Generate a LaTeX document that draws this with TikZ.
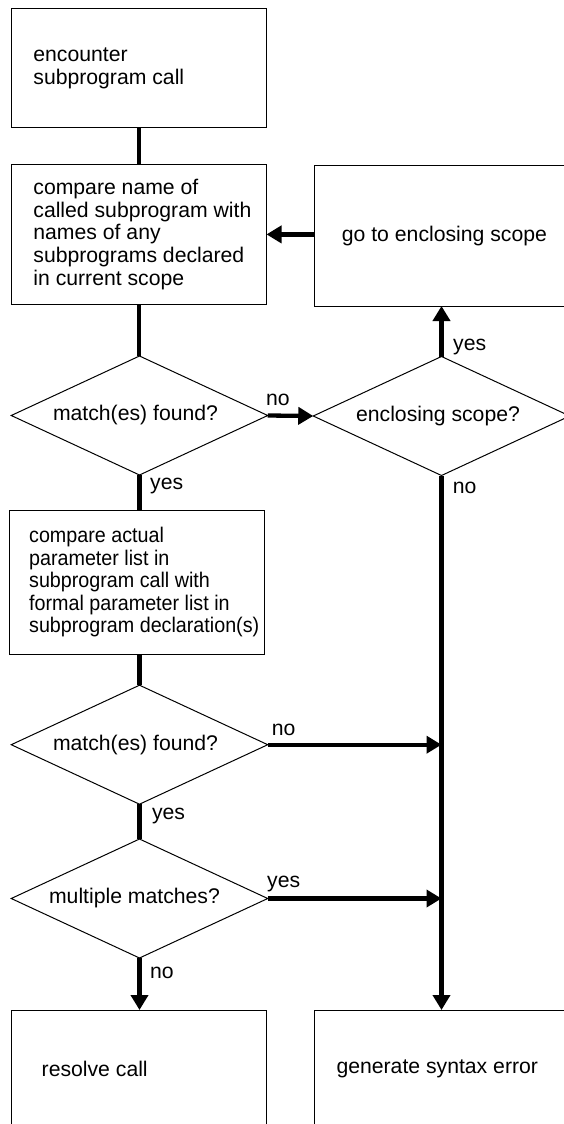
\documentclass[tikz,border=0pt]{standalone}
\usepackage{fontspec}
\setmainfont{Liberation Sans}
\newfontfamily\condfont{Liberation Sans}[FakeStretch=0.93]
\usetikzlibrary{shapes.geometric,arrows.meta,calc}
\newcommand\myfs{\fontsize{21.2pt}{22.6pt}\selectfont}
\begin{document}
\begin{tikzpicture}[x=1pt,y=-1pt,
  font=\myfs,
  box/.style={draw=black, line width=1pt, minimum width=255pt, inner sep=0pt, outer sep=0pt},
  txt/.style={anchor=west, align=left, inner sep=0pt},
  dec/.style={diamond, draw=black, line width=1pt, minimum width=256.5pt, minimum height=119pt, inner sep=0pt, outer sep=0pt, aspect=2},
  conn/.style={line width=4.3pt},
  arr/.style={conn, -{Triangle[length=15pt,width=17pt]}},
  lbl/.style={anchor=base west, inner sep=0pt}]
\useasboundingbox (0,0) rectangle (564,1124);
\clip (0,0) rectangle (564,1124);

% boxes and decisions
\node[box, minimum height=118.5pt] (b1) at (139,68.25) {};
\node[txt] (b1t) at ([xshift=21.7pt]b1.west) {encounter\\subprogram call};

\node[box, minimum height=139.8pt] (b2) at (139,234.4) {};
\node[txt] (b2t) at ([xshift=21.7pt]b2.west) {compare name of\\called subprogram with\\names of any\\subprograms declared\\in current scope};

\node[box, minimum height=140.2pt] (gs) at (441.5,235.9) {};
\node[txt] (gst) at ([xshift=27.7pt]gs.west) {go to enclosing scope};

\node[dec] (d1) at (139.5,415.5) {match(es) found?\hspace*{8pt}};
\node[dec] (d2) at (441.5,416) {enclosing scope?\hspace*{7pt}};

\node[box, minimum height=143.7pt] (b3) at (137.35,582.2) {};
\node[txt, font=\condfont\myfs] (b3t) at ([xshift=19.1pt]b3.west) {compare actual\\parameter list in\\subprogram call with\\formal parameter list in\\subprogram declaration(s)};

\node[dec] (d3) at (139.5,744.7) {match(es) found?\hspace*{8pt}};
\node[dec] (d4) at (139.5,898.5) {multiple matches?\hspace*{10pt}};

\node[box, minimum height=118.5pt] (b5) at (139,1069.25) {};
\node[txt] (b5t) at ([xshift=30pt]b5.west) {resolve call};

\node[box, minimum height=118.5pt] (b6) at (441.5,1069.25) {};
\node[txt] (b6t) at ([xshift=22.3pt]b6.west) {generate syntax error};

% connectors
\draw[conn] (b1.south) -- (b2.north);
\draw[conn] (b2.south) -- (b2.south |- d1.north);
\draw[arr] (d1.east) -- (d2.west);
\draw[arr] (d2.north) -- (d2.north |- gs.south);
\draw[arr] (gs.west |- b2.east) -- (b2.east);
\draw[conn] (d1.south) -- (d1.south |- b3.north);
\draw[conn] (d1.south |- b3.south) -- (d3.north);
\draw[conn] (d3.south) -- (d4.north);
\draw[arr] (d4.south) -- (d4.south |- b5.north);
\draw[arr] (d2.south) -- (d2.south |- b6.north);
\draw[arr] (d3.east) -- (d3.east -| d2.south);
\draw[arr] (d4.east) -- (d4.east -| d2.south);

% labels
\node[lbl] (l1) at ($(d1.east)+(-1.75,-10.5)$) {no};
\node[lbl] (l2) at ($(d2.north)+(11.5,-6)$) {yes};
\node[lbl] (l3) at ($(d2.south)+(11.2,17.8)$) {no};
\node[lbl] (l4) at ($(d1.south)+(10.5,14.3)$) {yes};
\node[lbl] (l5) at ($(d3.east)+(4,-9.7)$) {no};
\node[lbl] (l6) at ($(d3.south)+(12.3,15.2)$) {yes};
\node[lbl] (l7) at ($(d4.east)+(-0.75,-11.5)$) {yes};
\node[lbl] (l8) at ($(d4.south)+(10.5,20)$) {no};
\end{tikzpicture}
\end{document}
